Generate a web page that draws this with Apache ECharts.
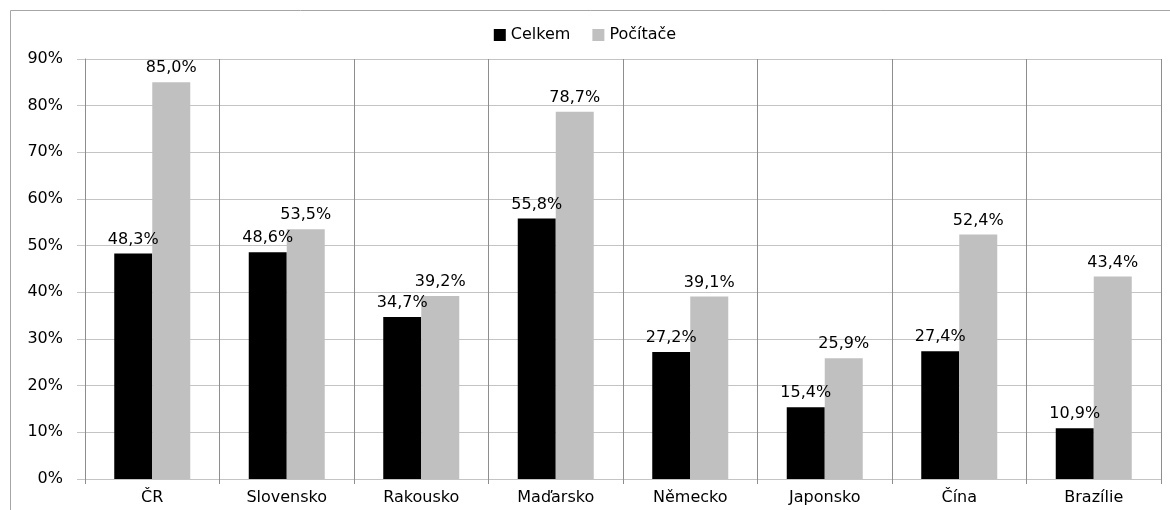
<!DOCTYPE html>
<html>
<head>
<meta charset="utf-8">
<script src="https://cdn.jsdelivr.net/npm/echarts@6/dist/echarts.min.js"></script>
<style>
  html, body { margin: 0; padding: 0; background: #ffffff; }
  #chart { width: 1170px; height: 510px; }
</style>
</head>
<body>
<div id="chart"></div>
<script>
// Země a podíly (v %)
const categories = ['ČR', 'Slovensko', 'Rakousko', 'Maďarsko', 'Německo', 'Japonsko', 'Čína', 'Brazílie'];
const celkem = [48.3, 48.6, 34.7, 55.8, 27.2, 15.4, 27.4, 10.9];
const pocitace = [85.0, 53.5, 39.2, 78.7, 39.1, 25.9, 52.4, 43.4];
const seriesNames = ['Celkem', 'Počítače'];

const FONT = 'DejaVu Sans';
const H_LINE = '#c4c4c4';   // vodorovné mřížky
const V_LINE = '#8e8e8e';   // svislé mřížky a osa Y

const fmt = v => v.toFixed(1).replace('.', ',') + '%';

const chart = echarts.init(document.getElementById('chart'), null, { renderer: 'canvas' });

const labelStyle = {
  show: true,
  position: 'top',
  distance: 6,
  color: '#000',
  fontFamily: FONT,
  fontSize: 16,
  formatter: p => fmt(p.value)
};

chart.setOption({
  animation: false,
  backgroundColor: '#ffffff',
  textStyle: { fontFamily: FONT },
  graphic: [{
    type: 'rect',
    shape: { x: 10.5, y: 10.5, width: 1300, height: 700 },
    style: { fill: 'none', stroke: '#a6a6a6', lineWidth: 1 },
    silent: true,
    z: -10
  }],
  legend: {
    top: 22,
    left: 'center',
    itemWidth: 12,
    itemHeight: 12,
    itemGap: 22,
    icon: 'rect',
    textStyle: { fontFamily: FONT, fontSize: 16, color: '#000' },
    data: seriesNames
  },
  grid: { left: 85, right: 9, top: 59, bottom: 31, containLabel: false },
  xAxis: {
    type: 'category',
    data: categories,
    axisLine: { show: true, lineStyle: { color: H_LINE, width: 1 } },
    axisTick: { show: true, length: 5, lineStyle: { color: V_LINE } },
    splitLine: { show: true, lineStyle: { color: V_LINE, width: 1 } },
    axisLabel: { color: '#000', fontFamily: FONT, fontSize: 16, margin: 11 }
  },
  yAxis: {
    type: 'value',
    min: 0,
    max: 90,
    interval: 10,
    axisLine: { show: true, lineStyle: { color: V_LINE, width: 1 } },
    axisTick: { show: true, length: 8, lineStyle: { color: H_LINE } },
    splitLine: { show: true, lineStyle: { color: H_LINE, width: 1 } },
    axisLabel: {
      color: '#000', fontFamily: FONT, fontSize: 16, margin: 22,
      formatter: v => v + '%'
    }
  },
  series: [
    {
      name: seriesNames[0],
      type: 'bar',
      data: celkem,
      barWidth: 38,
      barGap: '0%',
      itemStyle: { color: '#000000' },
      label: labelStyle
    },
    {
      name: seriesNames[1],
      type: 'bar',
      data: pocitace,
      barWidth: 38,
      barGap: '0%',
      itemStyle: { color: '#c0c0c0' },
      label: labelStyle
    }
  ]
});
</script>
</body>
</html>
